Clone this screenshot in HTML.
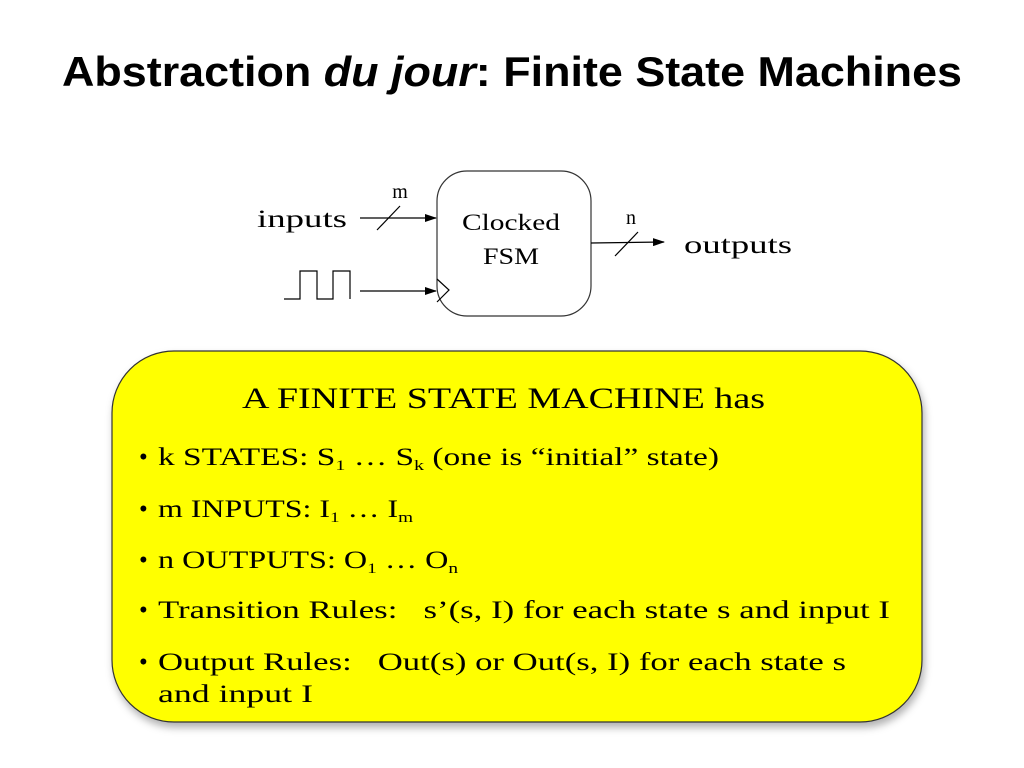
<!DOCTYPE html>
<html><head><meta charset="utf-8"><style>
html,body{margin:0;padding:0;background:#fff;width:1024px;height:768px;overflow:hidden}
</style></head><body>
<svg width="1024" height="768" viewBox="0 0 1024 768" xmlns="http://www.w3.org/2000/svg">
<defs>
<marker id="ah" markerWidth="12" markerHeight="8" refX="11" refY="4" orient="auto" markerUnits="userSpaceOnUse">
<path d="M0,0 L12,4 L0,8 z" fill="#000"/></marker>
<filter id="sh" x="-5%" y="-5%" width="110%" height="115%"><feDropShadow dx="2" dy="5" stdDeviation="4" flood-color="#000" flood-opacity="0.3"/></filter>
</defs>
<text x="62" y="86" font-family="Liberation Sans, sans-serif" font-weight="bold" font-size="42" textLength="900" lengthAdjust="spacingAndGlyphs">Abstraction <tspan font-style="italic">du jour</tspan>: Finite State Machines</text>

<rect x="437" y="171" width="154" height="145" rx="30" fill="#fff" stroke="#333" stroke-width="1.2"/>
<g font-family="Liberation Serif, serif" font-size="23" fill="#000">
<text x="511" y="230" text-anchor="middle" textLength="98" lengthAdjust="spacingAndGlyphs">Clocked</text>
<text x="511" y="264" text-anchor="middle" textLength="56" lengthAdjust="spacingAndGlyphs">FSM</text>
<text x="257" y="227" font-size="25" textLength="90" lengthAdjust="spacingAndGlyphs">inputs</text>
<text x="684" y="253" font-size="25" textLength="108" lengthAdjust="spacingAndGlyphs">outputs</text>
<text x="400" y="198" text-anchor="middle" font-size="20">m</text>
<text x="631" y="224" text-anchor="middle" font-size="20">n</text>
</g>
<g stroke="#000" stroke-width="1.2" fill="none">
<line x1="360" y1="218" x2="436" y2="218" marker-end="url(#ah)"/>
<line x1="377" y1="230" x2="400" y2="206"/>
<line x1="360" y1="291" x2="436" y2="291" marker-end="url(#ah)"/>
<polyline points="437,279 449,290 437,302"/>
<line x1="591" y1="243" x2="664" y2="242" marker-end="url(#ah)"/>
<line x1="615" y1="256" x2="638" y2="232"/>
<polyline points="284,299 300,299 300,271 317,271 317,299 333,299 333,271 350,271 350,299"/>
</g>

<rect x="112" y="351" width="810" height="371" rx="62" fill="#ffff00" stroke="#333" stroke-width="1.2" filter="url(#sh)"/>
<g font-family="Liberation Serif, serif" font-size="30" fill="#000">
<text x="242" y="408" textLength="523" lengthAdjust="spacingAndGlyphs">A FINITE STATE MACHINE has</text>
</g>
<g font-family="Liberation Serif, serif" font-size="25" fill="#000">
<text x="139" y="465">•</text><text x="158" y="465" textLength="561" lengthAdjust="spacingAndGlyphs">k STATES: S<tspan font-size="15" dy="5">1</tspan><tspan dy="-5"> … S</tspan><tspan font-size="15" dy="5">k</tspan><tspan dy="-5"> (one is “initial” state)</tspan></text>
<text x="139" y="517">•</text><text x="158" y="517" textLength="255" lengthAdjust="spacingAndGlyphs">m INPUTS: I<tspan font-size="15" dy="5">1</tspan><tspan dy="-5"> … I</tspan><tspan font-size="15" dy="5">m</tspan></text>
<text x="139" y="568">•</text><text x="158" y="568" textLength="300" lengthAdjust="spacingAndGlyphs">n OUTPUTS: O<tspan font-size="15" dy="5">1</tspan><tspan dy="-5"> … O</tspan><tspan font-size="15" dy="5">n</tspan></text>
<text x="139" y="618">•</text><text x="158" y="618" textLength="732" lengthAdjust="spacingAndGlyphs">Transition Rules:&#160;&#160;&#160;s’(s, I) for each state s and input I</text>
<text x="139" y="670">•</text><text x="158" y="670" textLength="688" lengthAdjust="spacingAndGlyphs">Output Rules:&#160;&#160;&#160;Out(s) or Out(s, I) for each state s</text>
<text x="158" y="702" textLength="155" lengthAdjust="spacingAndGlyphs">and input I</text>
</g>
</svg>
</body></html>
